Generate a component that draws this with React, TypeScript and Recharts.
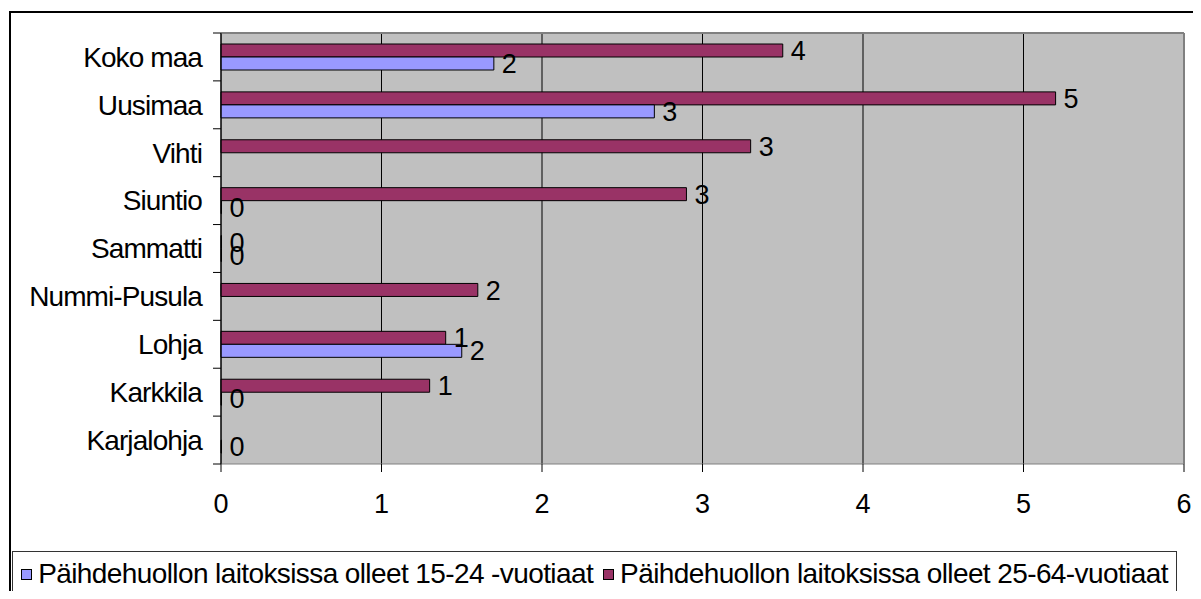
import React from 'react'
import { BarChart, Bar, XAxis, YAxis, CartesianGrid, LabelList, ReferenceLine } from 'recharts'

const regions = ['Koko maa', 'Uusimaa', 'Vihti', 'Siuntio', 'Sammatti', 'Nummi-Pusula', 'Lohja', 'Karkkila', 'Karjalohja']
const youth = [1.7, 2.7, null, 0, 0, null, 1.5, 0, 0]
const adults = [3.5, 5.2, 3.3, 2.9, 0, 1.6, 1.4, 1.3, null]
const xTicks = [0, 1, 2, 3, 4, 5, 6]

const youthLabel = 'Päihdehuollon laitoksissa olleet 15-24 -vuotiaat'
const adultLabel = 'Päihdehuollon laitoksissa olleet 25-64-vuotiaat'

const data = regions.map((name, i) => ({ name, youth: youth[i], adults: adults[i] }))

const FONT = '"Liberation Sans", Arial, sans-serif'
const CHART_W = 1190
const CHART_H = 520
const MARGIN = { top: 25, right: 14, left: 0, bottom: 14 }
const Y_AXIS_W = 213
const X_AXIS_H = 50
const PLOT_H = CHART_H - MARGIN.top - MARGIN.bottom - X_AXIS_H
const HALF_BAND = PLOT_H / regions.length / 2

const YTick = (props: any) => {
  const { x, y, payload, index } = props
  const axisX = MARGIN.left + Y_AXIS_W
  return (
    <g>
      <text x={x} y={y} dy="0.35em" textAnchor="end" fill="#000" fontSize={28} fontFamily={FONT} letterSpacing={-0.9}>
        {payload.value}
      </text>
      <line x1={axisX - 8} x2={axisX} y1={y - HALF_BAND} y2={y - HALF_BAND} stroke="#000" />
      {index === regions.length - 1 && (
        <line x1={axisX - 8} x2={axisX} y1={y + HALF_BAND} y2={y + HALF_BAND} stroke="#000" />
      )}
    </g>
  )
}

const fmt = (v: any) => (v === null || v === undefined ? '' : String(Math.round(Number(v))))
// zero bars still need their "0" label, so give them a hairline width
const zeroWidth = (v: any) => (v === 0 ? 0.5 : 0)

const LegendItem = ({ color, text }: { color: string; text: string }) => (
  <span style={{ display: 'flex', alignItems: 'center', whiteSpace: 'nowrap' }}>
    <span style={{ width: 11, height: 11, background: color, border: '1px solid #000', marginRight: 6, boxSizing: 'border-box' }} />
    {text}
  </span>
)

export default function App() {
  return (
    <div style={{ position: 'relative', width: 1185, height: 583, fontFamily: FONT }}>
      <div style={{
        position: 'absolute', left: 1, top: 3, width: 1192, height: 588,
        borderTop: '2px solid #000', borderLeft: '2px solid #000', boxSizing: 'border-box',
      }} />
      <div style={{ position: 'absolute', left: 0, top: 0 }}>
        <BarChart width={CHART_W} height={CHART_H} data={data} layout="vertical" margin={MARGIN} barGap={0} barSize={13}>
          <CartesianGrid horizontal={false} stroke="#000" fill="#C0C0C0" fillOpacity={1} />
          <CartesianGrid
            vertical={false}
            stroke="#808080"
            strokeWidth={2}
            horizontalCoordinatesGenerator={(p: any) => (p && p.offset ? [p.offset.top] : [])}
          />
          <XAxis
            type="number"
            domain={[0, 6]}
            ticks={xTicks}
            height={X_AXIS_H}
            tickSize={8}
            tickMargin={22}
            axisLine={{ stroke: '#808080' }}
            tickLine={{ stroke: '#000' }}
            tick={{ fill: '#000', fontSize: 27, fontFamily: FONT }}
            interval={0}
          />
          <YAxis
            type="category"
            dataKey="name"
            width={Y_AXIS_W}
            tickSize={8}
            tickMargin={11}
            tickLine={false}
            axisLine={{ stroke: '#000' }}
            tick={<YTick />}
            interval={0}
          />
          <ReferenceLine x={6} stroke="#808080" strokeWidth={2} />
          <Bar dataKey="adults" fill="#993366" stroke="#000" strokeWidth={1} minPointSize={zeroWidth} isAnimationActive={false}>
            <LabelList dataKey="adults" position="right" offset={8} formatter={fmt} fill="#000" fontSize={27} fontFamily={FONT} />
          </Bar>
          <Bar dataKey="youth" fill="#9999FF" stroke="#000" strokeWidth={1} minPointSize={zeroWidth} isAnimationActive={false}>
            <LabelList dataKey="youth" position="right" offset={8} formatter={fmt} fill="#000" fontSize={27} fontFamily={FONT} />
          </Bar>
        </BarChart>
      </div>
      <div style={{
        position: 'absolute', left: 4, top: 543, width: 1165, height: 46,
        border: '1px solid #333', boxSizing: 'border-box', display: 'flex', alignItems: 'center',
        justifyContent: 'center', gap: 10, fontSize: 28, letterSpacing: -0.6, color: '#000',
      }}>
        <LegendItem color="#9999FF" text={youthLabel} />
        <LegendItem color="#993366" text={adultLabel} />
      </div>
    </div>
  )
}
